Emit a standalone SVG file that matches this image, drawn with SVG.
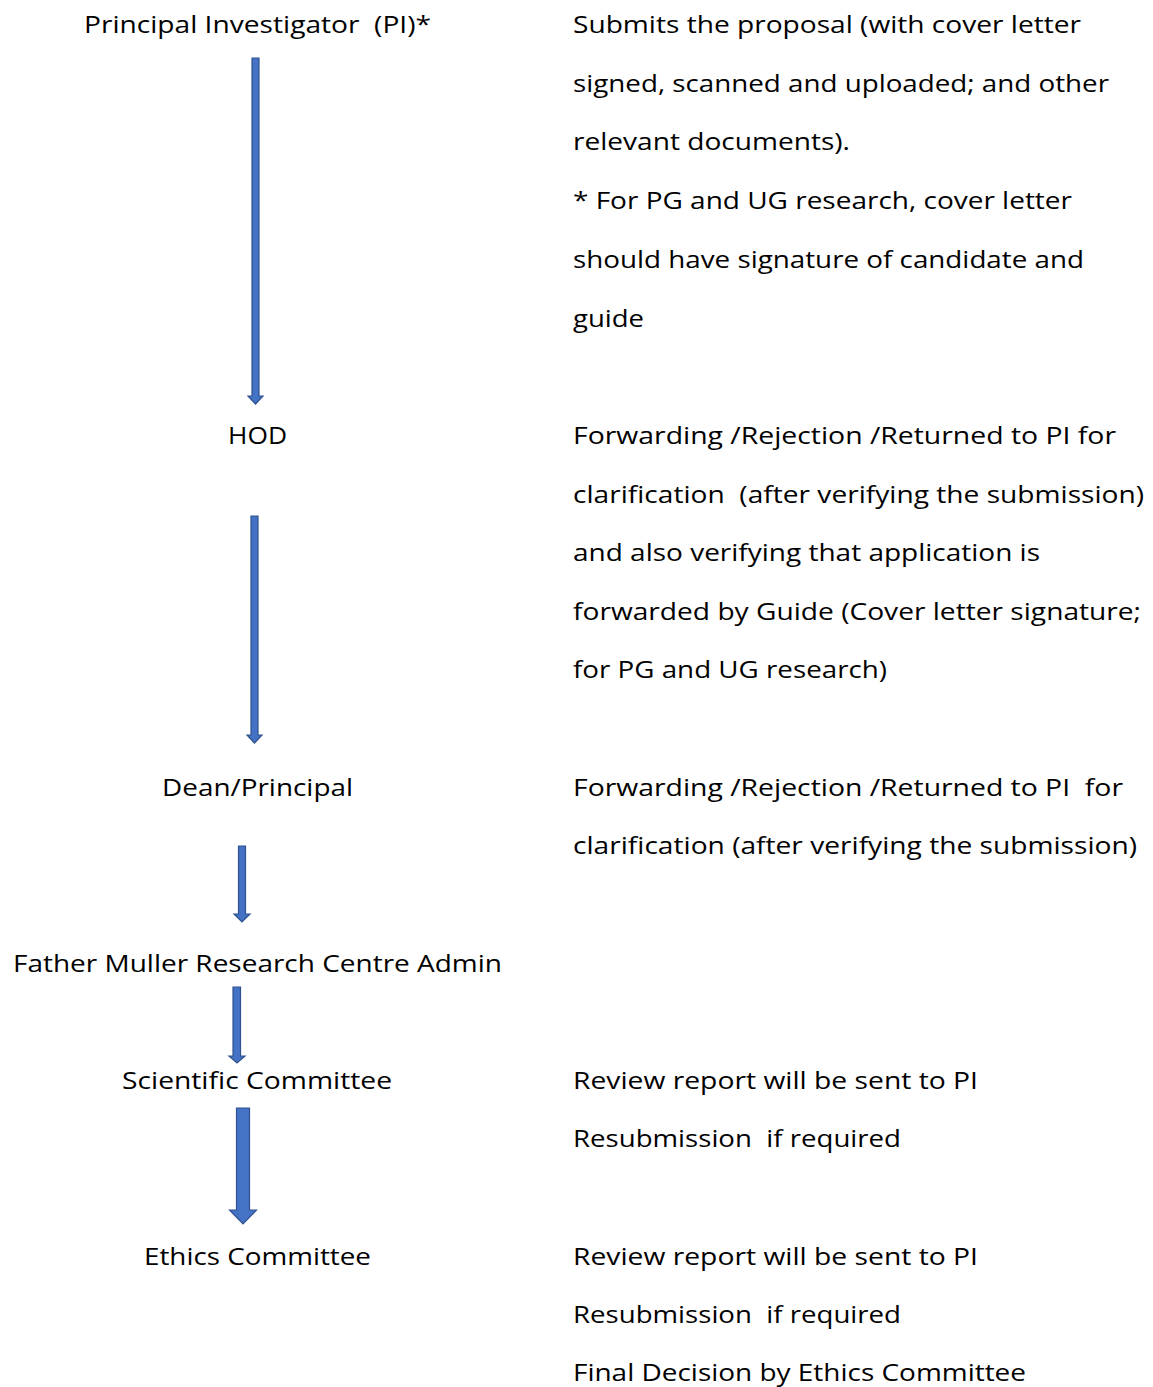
<svg xmlns="http://www.w3.org/2000/svg" width="1153" height="1387" viewBox="0 0 1153 1387">
<style>
text{font-family:"Open Sans","Noto Sans","Liberation Sans",sans-serif;font-size:24.5px;fill:#000;}
.l{text-anchor:middle;}
.arr{fill:#4472C4;stroke:#2F528F;stroke-width:1.2;}
</style>
<rect width="1153" height="1387" fill="#fff"/>
<g id="connectors">
<path class="arr" d="M252,58 H259 V396 H263 L255.5,404 L248,396 H252 Z"/>
<path class="arr" d="M251,516 H258 V735 H262 L254.5,743 L247,735 H251 Z"/>
<path class="arr" d="M238.5,846 H245.5 V914 H250 L242,922 L234,914 H238.5 Z"/>
<path class="arr" d="M233,987 H240.5 V1056 H245 L237,1063 L229,1056 H233 Z"/>
<path class="arr" d="M236.5,1108 H249.5 V1210 H256.5 L243,1224 L229.5,1210 H236.5 Z"/>
</g>
<g id="n-pi"><text class="l" x="257.5" y="33" textLength="347" lengthAdjust="spacingAndGlyphs" xml:space="preserve">Principal Investigator  (PI)*</text></g>
<g id="n-pi-desc">
<text x="573" y="33" textLength="508" lengthAdjust="spacingAndGlyphs">Submits the proposal (with cover letter</text>
<text x="573" y="92" textLength="536" lengthAdjust="spacingAndGlyphs">signed, scanned and uploaded; and other</text>
<text x="573" y="150" textLength="277" lengthAdjust="spacingAndGlyphs">relevant documents).</text>
<text x="573" y="209" textLength="499" lengthAdjust="spacingAndGlyphs">* For PG and UG research, cover letter</text>
<text x="573" y="268" textLength="511" lengthAdjust="spacingAndGlyphs">should have signature of candidate and</text>
<text x="573" y="327" textLength="71" lengthAdjust="spacingAndGlyphs">guide</text>
</g>
<g id="n-hod"><text class="l" x="257.5" y="444" textLength="59" lengthAdjust="spacingAndGlyphs">HOD</text></g>
<g id="n-hod-desc">
<text x="573" y="444" textLength="543" lengthAdjust="spacingAndGlyphs">Forwarding /Rejection /Returned to PI for</text>
<text x="573" y="503" textLength="571" lengthAdjust="spacingAndGlyphs" xml:space="preserve">clarification  (after verifying the submission)</text>
<text x="573" y="561" textLength="467" lengthAdjust="spacingAndGlyphs">and also verifying that application is</text>
<text x="573" y="620" textLength="568" lengthAdjust="spacingAndGlyphs">forwarded by Guide (Cover letter signature;</text>
<text x="573" y="678" textLength="314" lengthAdjust="spacingAndGlyphs">for PG and UG research)</text>
</g>
<g id="n-dean"><text class="l" x="257.5" y="796" textLength="191" lengthAdjust="spacingAndGlyphs">Dean/Principal</text></g>
<g id="n-dean-desc">
<text x="573" y="796" textLength="550" lengthAdjust="spacingAndGlyphs" xml:space="preserve">Forwarding /Rejection /Returned to PI  for</text>
<text x="573" y="854" textLength="564" lengthAdjust="spacingAndGlyphs">clarification (after verifying the submission)</text>
</g>
<g id="n-admin"><text class="l" x="257.5" y="972" textLength="489" lengthAdjust="spacingAndGlyphs">Father Muller Research Centre Admin</text></g>
<g id="n-sci"><text class="l" x="257" y="1089" textLength="270" lengthAdjust="spacingAndGlyphs">Scientific Committee</text></g>
<g id="n-sci-desc">
<text x="573" y="1089" textLength="405" lengthAdjust="spacingAndGlyphs">Review report will be sent to PI</text>
<text x="573" y="1147" textLength="328" lengthAdjust="spacingAndGlyphs" xml:space="preserve">Resubmission  if required</text>
</g>
<g id="n-eth"><text class="l" x="257.5" y="1265" textLength="227" lengthAdjust="spacingAndGlyphs">Ethics Committee</text></g>
<g id="n-eth-desc">
<text x="573" y="1265" textLength="405" lengthAdjust="spacingAndGlyphs">Review report will be sent to PI</text>
<text x="573" y="1323" textLength="328" lengthAdjust="spacingAndGlyphs" xml:space="preserve">Resubmission  if required</text>
<text x="573" y="1381" textLength="453" lengthAdjust="spacingAndGlyphs">Final Decision by Ethics Committee</text>
</g>
</svg>
